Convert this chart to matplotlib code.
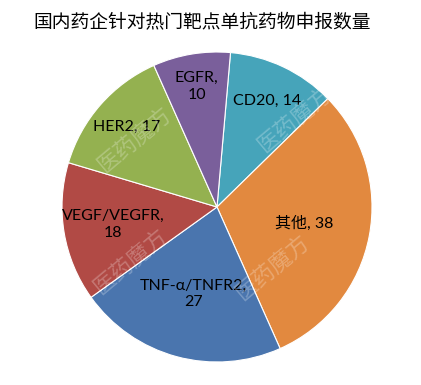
import numpy as np
import matplotlib
matplotlib.use('Agg')
import matplotlib.pyplot as plt

# 데이터
categories = ['CD20', '其他', 'TNF-α/TNFR2', 'VEGF/VEGFR', 'HER2', 'EGFR']
values = [14, 38, 27, 18, 17, 10]
label_texts = ['CD20, 14', '其他, 38', 'TNF-α/TNFR2,\n27', 'VEGF/VEGFR,\n18', 'HER2, 17', 'EGFR,\n10']
colors = ['#46A4BA', '#E2893F', '#4A75AE', '#B14A45', '#94B150', '#7A5F9B']
label_radius = [0.76, 0.57, 0.58, 0.68, 0.78, 0.79]

plt.rcParams['font.family'] = ['Lato', 'Noto Sans CJK SC', 'DejaVu Sans']

fig = plt.figure(figsize=(4.21, 3.85), dpi=100)
ax = fig.add_axes([62 / 421, 23 / 385, 310 / 421, 310 / 385])

wedges, _ = ax.pie(values, colors=colors, startangle=85, counterclock=False,
                   wedgeprops=dict(edgecolor='white', linewidth=0.8))
ax.set_xlim(-1, 1)
ax.set_ylim(-1, 1)
ax.set_aspect('equal')

# 라벨
for w, txt, r in zip(wedges, label_texts, label_radius):
    mid = np.deg2rad((w.theta1 + w.theta2) / 2)
    ax.text(r * np.cos(mid), r * np.sin(mid), txt, ha='center', va='center',
            fontsize=11.5, color='black', linespacing=1.25)

# 워터마크
for x, y in [(135, 140), (295, 120), (273, 268), (131, 262)]:
    fig.text(x / 421, 1 - y / 385, '医药魔方', fontsize=16, color='white', alpha=0.25,
             rotation=40, ha='center', va='center', family=['Noto Sans CJK SC'])

fig.text(33 / 421, 1 - 22 / 385, '国内药企针对热门靶点单抗药物申报数量', fontsize=13.5,
         ha='left', va='center', family=['Noto Sans CJK SC'])

fig.savefig('out.png', dpi=100)
